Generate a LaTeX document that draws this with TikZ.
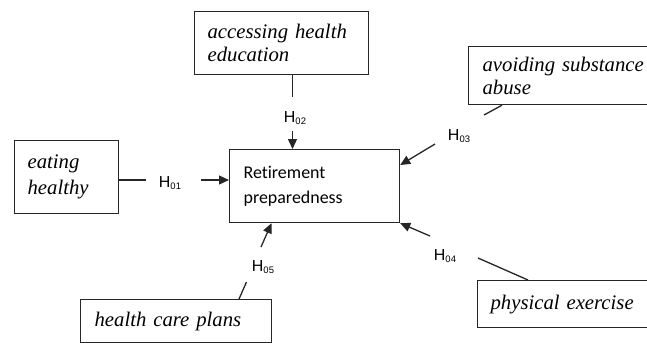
\documentclass[tikz,border=0pt]{standalone}
\usepackage{fontspec}
\setmainfont{Liberation Serif}
\newfontfamily\calfont[Ligatures=NoCommon]{Carlito}
\newfontfamily\arfont{Liberation Sans}
\usetikzlibrary{arrows.meta}
\newcommand{\hlab}[1]{{\arfont\fontsize{16}{16}\selectfont H\raisebox{-2bp}{\fontsize{9.5}{9.5}\selectfont #1}}}
\begin{document}
\begin{tikzpicture}[x=1bp,y=-1bp,
  box/.style={draw=black!85, line width=1.2bp, inner xsep=13bp, inner ysep=0pt, anchor=north west, align=left, font=\fontsize{20.8}{23}\selectfont\itshape},
  con/.style={line width=1.3bp, draw=black!85},
  arr/.style={con, -{Triangle[length=10bp,width=9bp]}},
  hl/.style={inner sep=0pt}]
\useasboundingbox (0,0) rectangle (647,343);

\node[box, text width=148bp, minimum height=63bp] (acc) at (194,11) {accessing health\\education};
\node[box, inner xsep=14bp, text width=175bp, minimum height=58bp] (avo) at (468,46) {avoiding substance\\abuse};
\node[box, text width=78bp, minimum height=73bp, font=\fontsize{20.8}{26}\selectfont\itshape] (eat) at (14,140) {eating\\healthy};
\node[box, inner xsep=14bp, text width=142bp, minimum height=73bp, font=\calfont\fontsize{18}{25}\selectfont] (ret) at (229,149) {Retirement\\preparedness};
\node[box, inner xsep=14bp, text width=163bp, minimum height=43bp] (hcp) at (80,299) {health care plans};
\node[box, text width=147bp, minimum height=47bp] (phy) at (477,280) {physical exercise};

\node[hl] (h01) at (170,183) {\hlab{01}};
\node[hl] (h02) at (295,118) {\hlab{02}};
\node[hl] (h03) at (459,136) {\hlab{03}};
\node[hl] (h04) at (445,256) {\hlab{04}};
\node[hl] (h05) at (263,267) {\hlab{05}};

\coordinate (a1) at (146,180); \coordinate (a2) at (201,180);
\draw[con] (eat.east |- a1) -- (a1);
\draw[arr] (a2) -- (ret.west |- a2);

\coordinate (b1) at (292.5,97); \coordinate (b2) at (292.5,131);
\draw[con] (acc.south -| b1) -- (b1);
\draw[arr] (b2) -- (ret.north -| b2);

\coordinate (c0) at (502,104); \coordinate (c1) at (484,115);
\coordinate (c2) at (435,144); \coordinate (c3) at (399,165);
\draw[con] (avo.south -| c0) -- (c1);
\draw[arr] (c2) -- (ret.east |- c3);

\coordinate (d0) at (528,280); \coordinate (d1) at (478,258); \coordinate (d2) at (430,236);
\draw[con] (d1) -- (phy.north -| d0);
\draw[arr] (d2) -- (ret.south east);

\coordinate (e0) at (239,299); \coordinate (e1) at (246.5,282);
\coordinate (e2) at (261,247); \coordinate (e3) at (271.5,222);
\draw[con] (hcp.north -| e0) -- (e1);
\draw[arr] (e2) -- (ret.south -| e3);
\end{tikzpicture}
\end{document}
